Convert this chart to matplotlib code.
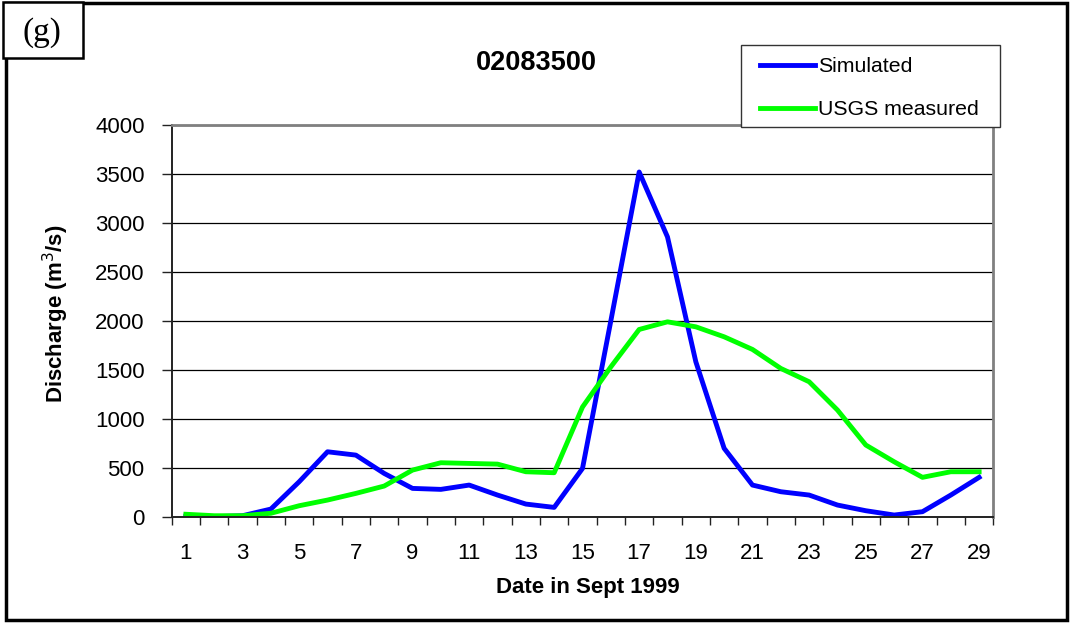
import matplotlib
matplotlib.use("Agg")
import matplotlib.pyplot as plt
from matplotlib.patches import Rectangle
from matplotlib.ticker import FixedLocator, NullFormatter

plt.rcParams['font.family'] = ['Liberation Sans', 'DejaVu Sans']

# Daily discharge, September 1999, station 02083500
days = list(range(1, 30))
simulated = [5, 0, 10, 78, 357, 663, 629, 442, 289, 279, 323, 221, 129, 95, 493,
             2000, 3520, 2857, 1582, 698, 323, 255, 221, 119, 61, 17, 51, 221, 402]
usgs_measured = [25, 10, 10, 35, 112, 170, 238, 313, 476, 551, 544, 537, 459, 449, 1120,
                 1530, 1912, 1990, 1939, 1837, 1708, 1514, 1378, 1089, 732, 561, 402, 459, 459]
y_ticks = [0, 500, 1000, 1500, 2000, 2500, 3000, 3500, 4000]
x_labels = days[::2]

W, H = 1070, 623
fig = plt.figure(figsize=(W / 100, H / 100), dpi=100)

def fx(px):
    return px / W

def fy(py):
    return 1 - py / H

ax = fig.add_axes([fx(171.7), fy(516.7), fx(993.3) - fx(171.7), fy(125) - fy(516.7)])

ax.plot(days, simulated, color='#0000ff', lw=3.5, label='Simulated', solid_joinstyle='round')
ax.plot(days, usgs_measured, color='#00ff00', lw=3.5, label='USGS measured', solid_joinstyle='round')

ax.set_xlim(0.5, len(days) + 0.5)
ax.set_ylim(0, 4000)
ax.set_yticks(y_ticks)
ax.set_yticklabels([str(v) for v in y_ticks], fontsize=16)
ax.yaxis.grid(True, color='black', lw=0.9)
ax.set_axisbelow(True)

# category labels in the middle, tick marks between categories
ax.set_xticks(x_labels)
ax.set_xticklabels([str(d) for d in x_labels], fontsize=16)
ax.xaxis.set_minor_locator(FixedLocator([d + 0.5 for d in [0] + days]))
ax.xaxis.set_minor_formatter(NullFormatter())
ax.tick_params(axis='x', which='major', length=0, pad=19)
ax.tick_params(axis='x', which='minor', length=6, width=1, color='#222222', direction='out')
ax.tick_params(axis='y', length=7, width=1, color='#222222', direction='out', pad=12.5)

for side in ('left', 'bottom'):
    ax.spines[side].set_color('#222222')
    ax.spines[side].set_linewidth(1.4)
for side in ('top', 'right'):
    ax.spines[side].set_color('#808080')
    ax.spines[side].set_linewidth(2)

ax.set_xlabel('Date in Sept 1999', fontsize=16, fontweight='bold', va='center', ha='center')
ax.xaxis.set_label_coords(fx(587.5), fy(587.5), transform=fig.transFigure)
ax.set_ylabel('Discharge (m$^3$/s)', fontsize=16, fontweight='bold', va='center', ha='center')
ax.yaxis.set_label_coords(fx(56), fy(314), transform=fig.transFigure)

fig.text(fx(536.7), fy(62.5), '02083500', fontsize=19.5, fontweight='bold', ha='center', va='center')

# legend box drawn as a fixed frame with the entries placed inside
fig.add_artist(Rectangle((fx(741), fy(126.7)), fx(1000) - fx(741), fy(44.7) - fy(126.7),
                         transform=fig.transFigure, facecolor='white', edgecolor='#333333', lw=1.0,
                         zorder=5))
handles, labels = ax.get_legend_handles_labels()
leg = fig.legend(handles, labels, loc='center left', bbox_to_anchor=(fx(760), fy(88)),
                 bbox_transform=fig.transFigure,
                 fontsize=15.3, frameon=False,
                 handlelength=2.6, handletextpad=0.15, labelspacing=1.13,
                 borderpad=0, borderaxespad=0)
leg.set_zorder(6)

# outer frame and panel tag
fig.add_artist(Rectangle((fx(6), fy(620)), fx(1067) - fx(6), fy(3) - fy(620),
                         transform=fig.transFigure, fill=False, edgecolor='black', lw=2.5))
fig.add_artist(Rectangle((fx(3.3), fy(58.3)), fx(82.7) - fx(3.3), fy(1.7) - fy(58.3),
                         transform=fig.transFigure, facecolor='white', edgecolor='black', lw=1.8))
fig.text(fx(42.2), fy(33), '(g)', fontsize=24, ha='center', va='center',
         family=['Liberation Serif', 'DejaVu Serif'])

fig.savefig('out.png', dpi=100)
